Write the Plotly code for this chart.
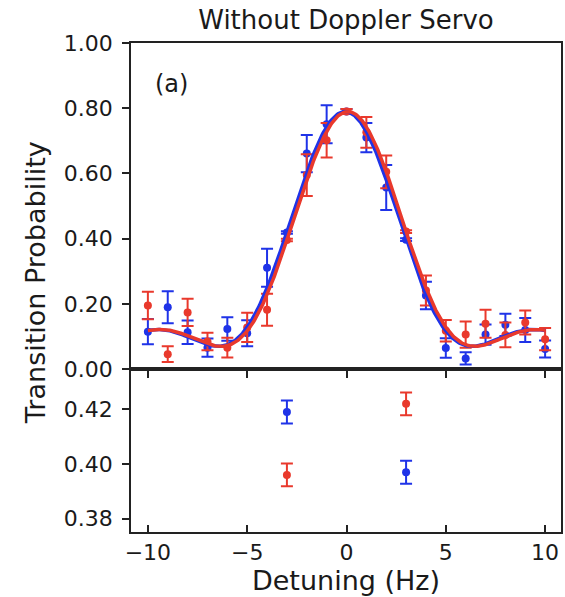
import numpy as np
import plotly.graph_objects as go
from plotly.subplots import make_subplots

# Measured transition probabilities vs. detuning (Hz) for the two probe directions
detuning = [-10, -9, -8, -7, -6, -5, -4, -3, -2, -1, 0, 1, 2, 3, 4, 5, 6, 7, 8, 9, 10]

blue_prob = [0.115, 0.190, 0.113, 0.066, 0.123, 0.110, 0.311, 0.419, 0.661, 0.751, 0.790,
             0.710, 0.557, 0.397, 0.226, 0.065, 0.033, 0.106, 0.136, 0.120, 0.062]
blue_err = [0.039, 0.049, 0.036, 0.028, 0.036, 0.040, 0.058, 0.0042, 0.057, 0.058, 0.008,
            0.045, 0.069, 0.0042, 0.042, 0.030, 0.019, 0.031, 0.034, 0.037, 0.026]

red_prob = [0.195, 0.046, 0.174, 0.085, 0.066, 0.128, 0.182, 0.396, 0.595, 0.702, 0.790,
            0.726, 0.605, 0.422, 0.241, 0.118, 0.106, 0.139, 0.105, 0.143, 0.092]
red_err = [0.042, 0.024, 0.042, 0.027, 0.030, 0.045, 0.049, 0.0042, 0.064, 0.053, 0.008,
           0.047, 0.050, 0.0042, 0.046, 0.033, 0.040, 0.043, 0.038, 0.037, 0.034]

# Rabi lineshape fit parameters: (center Hz, Rabi freq Hz, pulse time s, amplitude, offset)
blue_fit = dict(center=-0.07, rabi=2.39, t_pulse=0.1464, amp=0.907, offset=0.07)
red_fit = dict(center=0.07, rabi=2.39, t_pulse=0.1464, amp=0.907, offset=0.07)

BLUE = "#1f33e8"
RED = "#e9392c"
FONT = "DejaVu Sans"
TEXT = "#1a1a1a"


def rabi_lineshape(delta, center, rabi, t_pulse, amp, offset):
    d = np.asarray(delta) - center
    gen = np.sqrt(rabi ** 2 + d ** 2)
    return offset + amp * (rabi ** 2 / gen ** 2) * np.sin(np.pi * gen * t_pulse) ** 2


fig = make_subplots(rows=2, cols=1, shared_xaxes=True, vertical_spacing=0,
                    row_heights=[0.667, 0.333])


def add_points(xs, ys, es, color, row):
    fig.add_trace(go.Scatter(
        x=xs, y=ys, mode="markers",
        marker=dict(color=color, size=8),
        error_y=dict(type="data", array=es, color=color, thickness=2, width=6),
        showlegend=False), row=row, col=1)


add_points(detuning, blue_prob, blue_err, BLUE, 1)
add_points(detuning, red_prob, red_err, RED, 1)

fine = np.linspace(min(detuning), max(detuning), 400)
for pars, color in ((blue_fit, BLUE), (red_fit, RED)):
    fig.add_trace(go.Scatter(x=fine, y=rabi_lineshape(fine, **pars), mode="lines",
                             line=dict(color=color, width=3.5), showlegend=False),
                  row=1, col=1)

# Lower panel: close-up of the half-maximum points at +/-3 Hz
sel = [i for i, d in enumerate(detuning) if abs(d) == 3]
add_points([detuning[i] for i in sel], [blue_prob[i] for i in sel],
           [blue_err[i] for i in sel], BLUE, 2)
add_points([detuning[i] for i in sel], [red_prob[i] for i in sel],
           [red_err[i] for i in sel], RED, 2)

axis_common = dict(showline=True, linecolor="#222", linewidth=1.5, mirror=True,
                   showgrid=False, zeroline=False, ticklen=7, tickwidth=1.5,
                   tickcolor="#222", tickfont=dict(family=FONT, size=22, color=TEXT))

fig.update_xaxes(**axis_common, range=[-10.85, 10.8], tickvals=[-10, -5, 0, 5, 10])
fig.update_xaxes(ticks="outside", showticklabels=False, row=1, col=1)
fig.update_xaxes(ticks="inside", row=2, col=1,
                 title=dict(text="Detuning (Hz)", font=dict(family=FONT, size=27, color=TEXT),
                            standoff=4))
fig.update_yaxes(**axis_common, ticks="outside", ticklabelstandoff=5)
fig.update_yaxes(range=[0, 1], tickvals=[0, 0.2, 0.4, 0.6, 0.8, 1.0], tickformat=".2f",
                 row=1, col=1)
fig.update_yaxes(range=[0.3751, 0.4347], tickvals=[0.38, 0.40, 0.42], tickformat=".2f",
                 row=2, col=1)

fig.add_annotation(text="Transition Probability", textangle=-90, showarrow=False,
                   xref="paper", yref="paper", x=-0.222, y=0.51, xanchor="center",
                   font=dict(family=FONT, size=27, color=TEXT))
fig.add_annotation(text="(a)", showarrow=False, xref="x", yref="y", x=-9.75, y=0.875,
                   xanchor="left", font=dict(family=FONT, size=24, color=TEXT))

fig.update_layout(
    width=565, height=597,
    margin=dict(l=131, r=2, t=43, b=65),
    paper_bgcolor="white", plot_bgcolor="white",
    title=dict(text="Without Doppler Servo", x=0.5, xanchor="center", y=0.9665,
               yanchor="middle", xref="paper",
               font=dict(family=FONT, size=26, color=TEXT)),
)

fig.write_html("out.html")
